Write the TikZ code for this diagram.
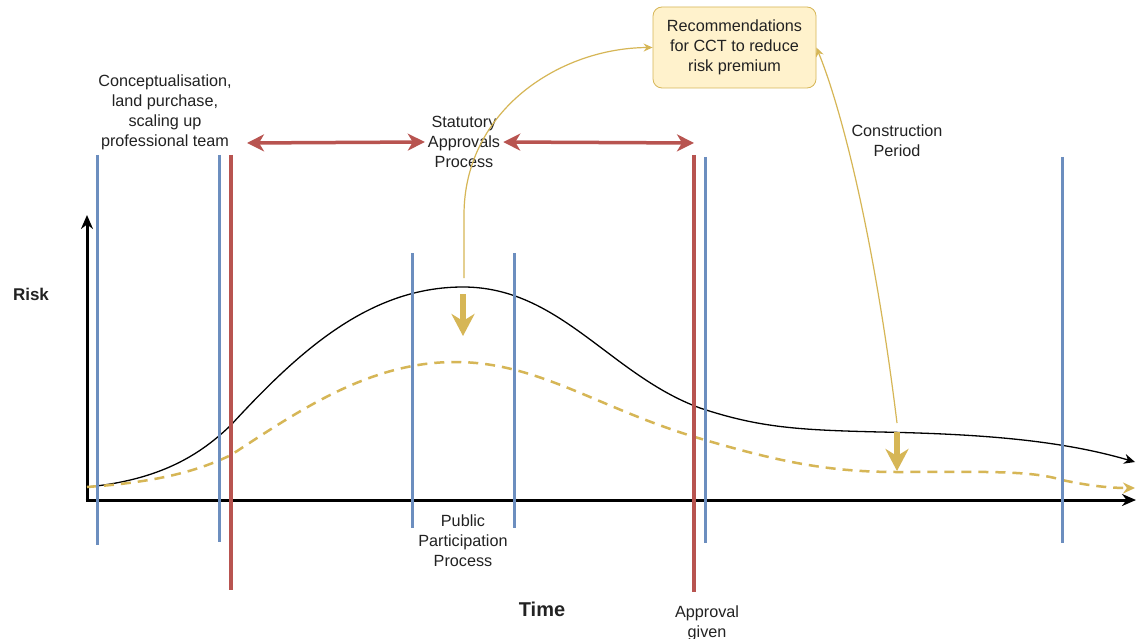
\documentclass[tikz,border=0pt]{standalone}
\usepackage{fontspec}
\setmainfont{Liberation Sans}
\usetikzlibrary{arrows.meta,positioning}
\definecolor{bluec}{HTML}{6C8EBF}
\definecolor{redc}{HTML}{B85450}
\definecolor{goldc}{HTML}{D6B656}
\definecolor{notebg}{HTML}{FFF2CC}
\definecolor{inkc}{HTML}{222222}
\tikzset{
  ax/.style={-{Stealth[length=14pt,width=12pt]},line width=3pt,black},
  bline/.style={bluec,line width=3pt},
  rline/.style={redc,line width=3.5pt},
  span/.style={{Stealth[length=17pt,width=17pt,inset=5pt]}-{Stealth[length=17pt,width=17pt,inset=5pt]},redc,line width=3.5pt},
  lbl/.style={align=center,text=inkc,font=\fontsize{16.2}{20}\selectfont,inner sep=3pt},
  note/.style={draw=goldc,fill=notebg,rounded corners=9pt,align=center,text=inkc,
    font=\fontsize{16.2}{20}\selectfont,minimum width=163pt,minimum height=81pt,line width=0.8pt},
  link/.style={-{Stealth[length=9pt,width=8pt]},goldc,line width=1.2pt},
  drop/.style={-{Stealth[length=22pt,width=23pt,inset=7pt]},goldc,line width=6pt},
  risk/.style={-{Stealth[length=11pt,width=10pt]},black,line width=1.3pt},
  lowrisk/.style={-{Stealth[length=12pt,width=11pt]},goldc,line width=2.5pt,dash pattern=on 10pt off 7pt}
}
\begin{document}
\begin{tikzpicture}[x=1pt,y=-1pt]
\useasboundingbox (0,0) rectangle (1137,639);
\fill[white] (0,0) rectangle (1137,639);

% axes
\draw[ax] (87,501.5) -- (87,215);
\draw[ax] (85.5,500) -- (1136,500);
\node[font=\fontsize{17}{20}\selectfont\bfseries,text=inkc] (risk) at (31,294) {Risk};
\node[font=\fontsize{20}{24}\selectfont\bfseries,text=inkc] (time) at (542,609) {Time};

% risk curves
\draw[risk] (87,487) .. controls (160,480) and (200,455) .. (231,425)
  .. controls (300,350) and (370,287) .. (463,287)
  .. controls (560,287) and (610,375) .. (700,408)
  .. controls (760,428) and (800,430) .. (880,432)
  .. controls (980,434) and (1060,440) .. (1135,462);
\draw[lowrisk] (87,487) .. controls (160,482) and (200,470) .. (231,455)
  .. controls (300,410) and (370,362) .. (455,362)
  .. controls (540,362) and (600,410) .. (705,440)
  .. controls (780,462) and (830,472) .. (897,472)
  .. controls (980,472) and (1030,470) .. (1062,480)
  .. controls (1090,486) and (1110,488) .. (1135,488);

% phase markers
\foreach \x/\a/\b in {97/155/545, 219/155/542, 412/253/528, 514/253/528, 705/157/543, 1062/157/543}
  \draw[bline] (\x,\a) -- (\x,\b);
\foreach \x/\a/\b in {231/155/590, 694/155/592}
  \draw[rline] (\x,\a) -- (\x,\b);

% labels
\node[lbl] (concept) at (165,112) {Conceptualisation,\\land purchase,\\scaling up\\professional team};
\node[lbl] (statutory) at (464,142) {Statutory\\Approvals\\Process};
\node[lbl] (public) at (463,541) {Public\\Participation\\Process};
\node[lbl] (constr) at (897,141) {Construction\\Period};
\node[lbl] (approval) at (707,623) {Approval\\given};
\node[note] (cct) at (734.5,47.5) {Recommendations\\for CCT to reduce\\risk premium};

\coordinate (spanL) at (247,143);
\coordinate (spanR) at (694,143);
\draw[span] (statutory.west) -- (spanL);
\draw[span] (statutory.east) -- (spanR);

% links to the recommendations
\coordinate (peakA) at (464,278);
\coordinate (peakB) at (897,423);
\draw[link] (peakA) -- (464,215) .. controls (464,110) and (560,48) .. (cct.west);
\draw[link] (peakB) .. controls (872,220) and (838,100) .. (cct.east);

\coordinate (dropA) at (463,294);
\coordinate (dropB) at (897,432);
\draw[drop] (dropA) -- ++(0,42);
\draw[drop] (dropB) -- ++(0,39);
\end{tikzpicture}
\end{document}
